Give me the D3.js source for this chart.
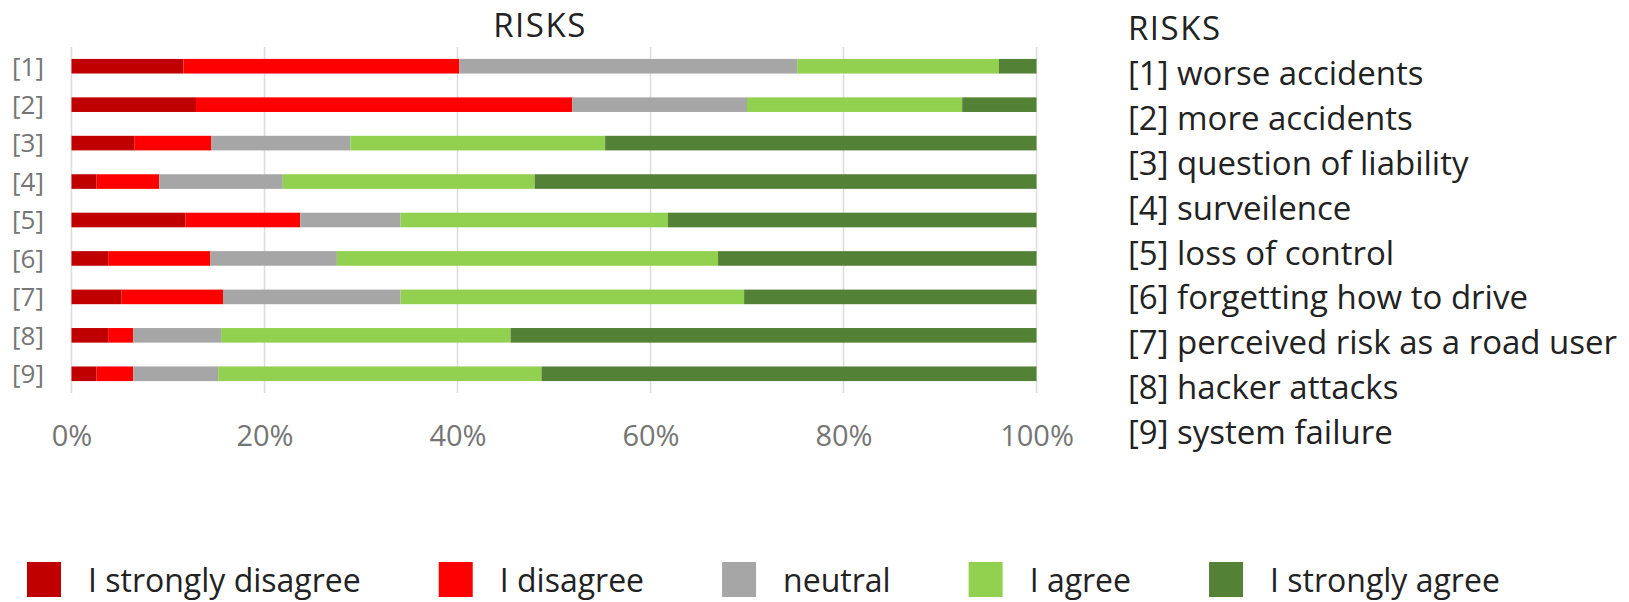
<!DOCTYPE html>
<html>
<head>
<meta charset="utf-8">
<script src="https://cdn.jsdelivr.net/npm/d3@7"></script>
<style>
  body { margin: 0; background: #ffffff; }
  svg { display: block; font-family: "Open Sans", sans-serif; }
</style>
</head>
<body>
<div id="chart"></div>
<script>
// Row labels and descriptions
var rowLabels = ["[1]", "[2]", "[3]", "[4]", "[5]", "[6]", "[7]", "[8]", "[9]"];
var riskNames = ["worse accidents", "more accidents", "question of liability", "surveilence",
    "loss of control", "forgetting how to drive", "perceived risk as a road user",
    "hacker attacks", "system failure"];

// Answer categories (legend)
var answers = ["I strongly disagree", "I disagree", "neutral", "I agree", "I strongly agree"];

// Share of answers per row, in percent
var stronglyDisagree = [11.6, 12.9, 6.5, 2.6, 11.8, 3.8, 5.2, 3.8, 2.6];
var disagree = [28.6, 39.0, 8.0, 6.5, 11.9, 10.6, 10.5, 2.6, 3.8];
var neutral = [35.0, 18.1, 14.4, 12.8, 10.4, 13.1, 18.4, 9.1, 8.8];
var agree = [20.9, 22.3, 26.4, 26.1, 27.7, 39.5, 35.6, 30.0, 33.5];
var stronglyAgree = [3.9, 7.7, 44.7, 52.0, 38.2, 33.0, 30.3, 54.5, 51.3];

var tickValues = [0, 20, 40, 60, 80, 100];

// Build rows for the stack layout
var seriesValues = [stronglyDisagree, disagree, neutral, agree, stronglyAgree];
var rows = rowLabels.map(function (label, i) {
    var row = { label: label };
    answers.forEach(function (a, j) { row[a] = seriesValues[j][i]; });
    return row;
});

var width = 1629;
var height = 602;
var plot = { left: 71.5, right: 1036.5, top: 47, bottom: 393 };

var colors = d3.scaleOrdinal()
    .domain(answers)
    .range(["#c00000", "#ff0000", "#a6a6a6", "#92d050", "#538135"]);

var svg = d3.select("#chart")
    .append("svg")
    .attr("width", width)
    .attr("height", height);

var x = d3.scaleLinear()
    .domain([0, 100])
    .range([plot.left, plot.right]);

var y = d3.scaleBand()
    .domain(rowLabels)
    .range([plot.top, plot.bottom])
    .paddingInner(0.62)
    .paddingOuter(0.31);

// Gridlines
svg.append("g")
    .selectAll("line")
    .data(tickValues)
    .enter()
    .append("line")
    .attr("x1", d => x(d))
    .attr("x2", d => x(d))
    .attr("y1", plot.top)
    .attr("y2", plot.bottom)
    .attr("stroke", "#dcdcdc")
    .attr("stroke-width", 1.5);

// Stacked bars
var stacked = d3.stack().keys(answers)(rows);

svg.append("g")
    .selectAll("g")
    .data(stacked)
    .enter()
    .append("g")
    .attr("fill", d => colors(d.key))
    .selectAll("rect")
    .data(d => d)
    .enter()
    .append("rect")
    .attr("x", d => x(d[0]))
    .attr("width", d => x(d[1]) - x(d[0]))
    .attr("y", d => y(d.data.label))
    .attr("height", y.bandwidth());

// Row labels
svg.append("g")
    .selectAll("text")
    .data(rowLabels)
    .enter()
    .append("text")
    .attr("x", 44)
    .attr("y", d => y(d) + y.bandwidth() / 2)
    .attr("dy", "0.36em")
    .attr("text-anchor", "end")
    .style("font-size", "26px")
    .style("fill", "#757575")
    .text(d => d);

// X axis tick labels
var xAxis = d3.axisBottom(x)
    .tickValues(tickValues)
    .tickSize(0)
    .tickPadding(0)
    .tickFormat(d => d + "%");

var axisG = svg.append("g")
    .attr("transform", "translate(0,425)")
    .call(xAxis);
axisG.select(".domain").remove();
axisG.selectAll("text")
    .attr("dy", "0.71em")
    .style("font-size", "29px")
    .style("font-family", "'Open Sans', sans-serif")
    .style("fill", "#757575");

// Title
svg.append("text")
    .attr("x", 540)
    .attr("y", 37)
    .attr("text-anchor", "middle")
    .style("font-size", "33px")
    .style("letter-spacing", "1.5px")
    .style("fill", "#222222")
    .text("RISKS");

// Right hand key
var keyLines = ["RISKS"].concat(rowLabels.map((l, i) => l + " " + riskNames[i]));
svg.append("g")
    .selectAll("text")
    .data(keyLines)
    .enter()
    .append("text")
    .attr("x", 1128)
    .attr("y", (d, i) => 40 + i * 44.9)
    .style("font-size", "33px")
    .style("letter-spacing", (d, i) => i === 0 ? "1.5px" : "0px")
    .style("fill", "#222222")
    .text(d => d);

// Bottom legend
var legend = svg.append("g").attr("transform", "translate(0,562)");
var lx = 27;
answers.forEach(function (a) {
    legend.append("rect")
        .attr("x", lx)
        .attr("y", 0)
        .attr("width", 34)
        .attr("height", 35)
        .attr("fill", colors(a));
    var t = legend.append("text")
        .attr("x", lx + 61)
        .attr("y", 30)
        .style("font-size", "32px")
        .style("fill", "#222222")
        .text(a);
    lx = lx + 61 + t.node().getComputedTextLength() + 78;
});
</script>
</body>
</html>
